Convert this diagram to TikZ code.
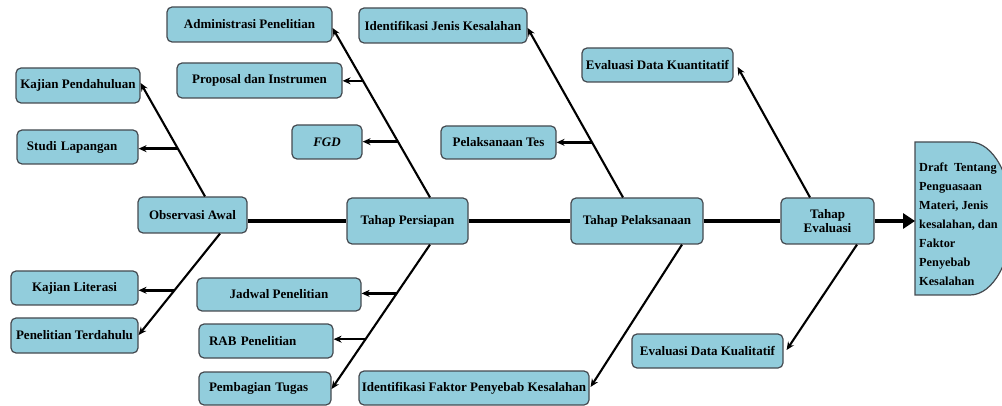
\documentclass[tikz,border=0pt]{standalone}
\usepackage{fontspec}
\setmainfont{Liberation Serif}
\usetikzlibrary{arrows.meta,calc}
\definecolor{boxfill}{HTML}{92CDDC}
\definecolor{boxline}{HTML}{454A50}
\begin{document}
\begin{tikzpicture}[x=1pt,y=-1pt,
  box/.style={draw=boxline, line width=1.2pt, fill=boxfill, rounded corners=5pt, inner sep=0pt,
    font=\fontsize{13}{14}\selectfont\bfseries, text=black, align=center},
  lbox/.style={box, text width=#1, align=left},
  spine/.style={line width=4.2pt},
  rib/.style={line width=2.1pt, -{Stealth[length=8pt,width=7pt]}},
  twig/.style={line width=2.6pt, -{Stealth[length=8pt,width=7pt]}},
  endarrow/.style={line width=4.5pt, -{Triangle[length=12pt,width=15pt]}},
]
\useasboundingbox (0,0) rectangle (1002,406);

% boxes
\node[box, minimum width=165pt, minimum height=35pt] (adm) at (249.5,24.5) {Administrasi Penelitian};
\node[box, minimum width=165pt, minimum height=35pt] (prop) at (259.5,80.5) {Proposal dan Instrumen};
\node[box, minimum width=124pt, minimum height=35pt] (kp) at (78,85.5) {Kajian Pendahuluan};
\node[lbox=101pt, minimum width=121pt, minimum height=34pt] (sl) at (77.5,147) {Studi Lapangan};
\node[box, minimum width=70pt, minimum height=34pt] (fgd) at (327,142) {\itshape FGD};
\node[box, minimum width=109pt, minimum height=36pt] (obs) at (192.5,215) {Observasi Awal};
\node[box, minimum width=127pt, minimum height=34pt] (kl) at (74.5,288) {Kajian Literasi};
\node[box, minimum width=127pt, minimum height=35pt] (pt) at (74.5,335.5) {Penelitian Terdahulu};
\node[box, minimum width=164pt, minimum height=33pt] (jp) at (279,294.5) {Jadwal Penelitian};
\node[lbox=114pt, minimum width=134pt, minimum height=34pt] (rab) at (266,341) {RAB Penelitian};
\node[lbox=112pt, minimum width=132pt, minimum height=33pt] (pbt) at (265,388.5) {Pembagian Tugas};
\node[box, minimum width=168pt, minimum height=35pt] (ijk) at (443,25.5) {Identifikasi Jenis Kesalahan};
\node[box, minimum width=115pt, minimum height=33pt] (ptes) at (498.5,142.5) {Pelaksanaan Tes};
\node[box, minimum width=151pt, minimum height=34pt] (edk) at (657.5,65) {Evaluasi Data Kuantitatif};
\node[box, minimum width=121pt, minimum height=46pt] (tp) at (407.5,221) {Tahap Persiapan};
\node[box, minimum width=132pt, minimum height=46pt] (tpl) at (637,221) {Tahap Pelaksanaan};
\node[box, minimum width=230pt, minimum height=34pt] (ifp) at (474,388) {Identifikasi Faktor Penyebab Kesalahan};
\node[box, minimum width=151pt, minimum height=34pt] (edkl) at (707.5,351) {Evaluasi Data Kualitatif};
\node[box, minimum width=93pt, minimum height=46pt] (te) at (827.5,221) {Tahap\\Evaluasi};

% final output shape
\draw[draw=boxline, line width=1.2pt, fill=boxfill] (915,142) -- (970,142)
  arc[start angle=90, end angle=-90, x radius=42pt, y radius=76.5pt] -- (915,295) -- cycle;
\node[anchor=north west, inner sep=0pt, align=left,
  font=\fontsize{12.3}{19}\selectfont\bfseries] (draft) at (919,163)
  {Draft\ \ Tentang\\Penguasaan\\Materi, Jenis\\kesalahan, dan\\Faktor\\Penyebab\\Kesalahan};
\coordinate (draftW) at (915,221);

% spine
\draw[spine] (obs.east |- tp.west) -- (tp.west);
\draw[spine] (tp.east) -- (tpl.west);
\draw[spine] (tpl.east) -- (te.west);
\draw[endarrow] (te.east) -- (draftW);

% rib end points
\coordinate (o1) at ($(obs.north)+(12.5,0)$);  \coordinate (t1) at ($(kp.east)+(0,-2.5)$);
\coordinate (o2) at ($(obs.south)+(27.5,0)$);  \coordinate (t2) at ($(pt.east)+(0,-0.5)$);
\coordinate (o3) at ($(tp.north)+(22.5,0)$);   \coordinate (t3) at ($(adm.east)+(0,3.5)$);
\coordinate (o4) at ($(tp.south)+(22.5,0)$);   \coordinate (t4) at ($(pbt.east)+(0,0.5)$);
\coordinate (o5) at ($(tpl.north)+(-14,0)$);   \coordinate (t5) at ($(ijk.east)+(0,2.5)$);
\coordinate (o6) at ($(tpl.south)+(45,0)$);    \coordinate (t6) at ($(ifp.east)+(1,-1)$);
\coordinate (o7) at ($(te.north)+(-17.5,0)$);  \coordinate (t7) at ($(edk.east)+(4,2)$);
\coordinate (o8) at ($(te.south)+(29.5,0)$);   \coordinate (t8) at ($(edkl.east)+(3,-1)$);

\foreach \i in {1,...,8} \draw[rib] (o\i) -- (t\i);

% twigs
\coordinate (b1) at ($(o1)!0.421!(t1)$); \draw[twig] (b1) -- (b1 -| sl.east);
\coordinate (b2) at ($(o2)!0.559!(t2)$); \draw[twig] (b2) -- (b2 -| kl.east);
\coordinate (b3) at ($(o3)!0.688!(t3)$); \draw[twig] (b3) -- (b3 -| prop.east);
\coordinate (b4) at ($(o3)!0.329!(t3)$); \draw[twig] (b4) -- (b4 -| fgd.east);
\coordinate (b5) at ($(o4)!0.338!(t4)$); \draw[twig] (b5) -- (b5 -| jp.east);
\coordinate (b6) at ($(o4)!0.655!(t4)$); \draw[twig] (b6) -- (b6 -| rab.east);
\coordinate (b7) at ($(o5)!0.325!(t5)$); \draw[twig] (b7) -- (b7 -| ptes.east);
\end{tikzpicture}
\end{document}
